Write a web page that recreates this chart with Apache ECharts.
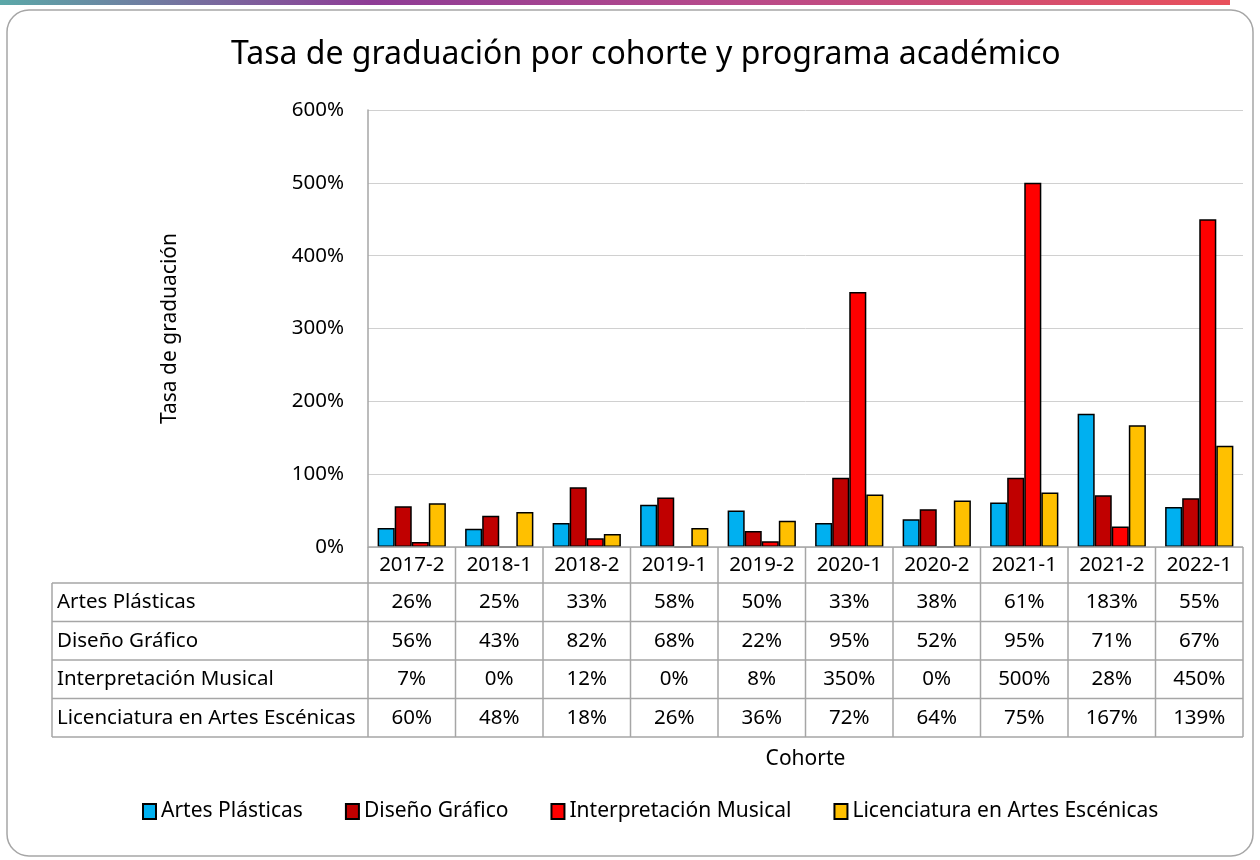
<!DOCTYPE html>
<html>
<head>
<meta charset="utf-8">
<script src="https://cdn.jsdelivr.net/npm/echarts@6/dist/echarts.min.js"></script>
<style>
  html, body { margin: 0; padding: 0; background: #fff; }
  #main { width: 1260px; height: 860px; }
</style>
</head>
<body>
<div id="main"></div>
<script>
// cohorts and graduation rates (%) per program
const cohortes = ['2017-2', '2018-1', '2018-2', '2019-1', '2019-2', '2020-1', '2020-2', '2021-1', '2021-2', '2022-1'];
const programas = ['Artes Plásticas', 'Diseño Gráfico', 'Interpretación Musical', 'Licenciatura en Artes Escénicas'];
const artesPlasticas = [26, 25, 33, 58, 50, 33, 38, 61, 183, 55];
const disenoGrafico = [56, 43, 82, 68, 22, 95, 52, 95, 71, 67];
const interpretacionMusical = [7, 0, 12, 0, 8, 350, 0, 500, 28, 450];
const licArtesEscenicas = [60, 48, 18, 26, 36, 72, 64, 75, 167, 139];
const colores = ['#00B0F0', '#C00000', '#FF0000', '#FFC000'];
const yTicks = [0, 100, 200, 300, 400, 500, 600];

const seriesData = [artesPlasticas, disenoGrafico, interpretacionMusical, licArtesEscenicas];
const font = 'Noto Sans';

var myChart = echarts.init(document.getElementById('main'));
var option = {
    animation: false,
    textStyle: { fontFamily: font },
    title: {
        text: 'Tasa de graduación por cohorte y programa académico',
        left: 226,
        top: 34,
        textStyle: { fontFamily: font, fontSize: 32, fontWeight: 'normal', color: '#000' }
    },
    legend: {
        bottom: 33,
        left: 137,
        itemWidth: 13,
        itemHeight: 15,
        itemGap: 42,
        icon: 'rect',
        textStyle: { fontFamily: font, fontSize: 21, color: '#000' },
        data: programas
    },
    grid: { left: 368, right: 17, top: 110, bottom: 313 },
    xAxis: {
        type: 'category',
        data: cohortes,
        name: 'Cohorte',
        nameLocation: 'middle',
        nameGap: 202,
        nameTextStyle: { fontFamily: font, fontSize: 21, color: '#000' },
        axisLine: { show: false },
        axisTick: { show: false },
        axisLabel: { show: false }
    },
    yAxis: {
        type: 'value',
        min: yTicks[0],
        max: yTicks[yTicks.length - 1],
        interval: 100,
        name: 'Tasa de graduación',
        nameLocation: 'middle',
        nameGap: 187,
        nameTextStyle: { fontFamily: font, fontSize: 21, color: '#000' },
        axisLine: { show: true, lineStyle: { color: '#A6A6A6', width: 1.5 } },
        axisTick: { show: false },
        axisLabel: { formatter: '{value}%', fontSize: 20.5, color: '#000', margin: 24 },
        splitLine: { lineStyle: { color: '#D0D0D0', width: 1 } }
    },
    series: programas.map(function (p, i) {
        return {
            name: p,
            type: 'bar',
            data: seriesData[i],
            barGap: '0%',
            barCategoryGap: '22%',
            itemStyle: { color: colores[i], borderColor: '#000', borderWidth: 1.5 }
        };
    })
};
option && myChart.setOption(option);

// data table under the plot, aligned with category bands
function buildTable() {
    const grid = myChart.getModel().getComponent('grid').coordinateSystem.getRect();
    const x0 = grid.x, x1 = grid.x + grid.width;
    const band = grid.width / cohortes.length;
    const top = grid.y + grid.height;
    const headerH = 36, rowH = 38.5;
    const tableLeft = 52;
    const line = { stroke: '#A6A6A6', lineWidth: 1.5 };
    const els = [];
    const txt = function (x, y, s, align) {
        els.push({ type: 'text', x: x, y: y, style: { text: s, font: '20.5px ' + font, fill: '#000', align: align, verticalAlign: 'middle' }, z: 10 });
    };
    const ln = function (ax, ay, bx, by) {
        els.push({ type: 'line', shape: { x1: ax, y1: ay, x2: bx, y2: by }, style: line, z: 10 });
    };
    const bottom = top + headerH + rowH * programas.length;
    // horizontal lines
    ln(x0, top, x1, top);
    for (let r = 0; r <= programas.length; r++) {
        const y = top + headerH + rowH * r;
        ln(tableLeft, y, x1, y);
    }
    // vertical lines
    ln(tableLeft, top + headerH, tableLeft, bottom);
    for (let c = 0; c <= cohortes.length; c++) {
        ln(x0 + band * c, top, x0 + band * c, bottom);
    }
    cohortes.forEach(function (c, i) {
        const cx = myChart.convertToPixel({ xAxisIndex: 0 }, c);
        txt(cx, top + headerH / 2, c, 'center');
        seriesData.forEach(function (arr, r) {
            txt(cx, top + headerH + rowH * r + rowH / 2, arr[i] + '%', 'center');
        });
    });
    programas.forEach(function (p, r) {
        txt(tableLeft + 5, top + headerH + rowH * r + rowH / 2, p, 'left');
    });
    // outer frame and top colour strip
    els.push({ type: 'rect', shape: { x: 7, y: 10, width: 1246, height: 846, r: 22 }, style: { fill: 'none', stroke: '#A6A6A6', lineWidth: 1.5 }, z: 0 });
    els.push({
        type: 'rect', shape: { x: 0, y: 0, width: 1230, height: 5 },
        style: { fill: new echarts.graphic.LinearGradient(0, 0, 1, 0, [
            { offset: 0, color: '#5BA8A8' }, { offset: 0.3, color: '#8E3C96' }, { offset: 0.6, color: '#B84A8A' }, { offset: 1, color: '#E8505B' }
        ]) }, z: 0
    });
    myChart.setOption({ graphic: { elements: els } });
}
buildTable();
</script>
</body>
</html>
